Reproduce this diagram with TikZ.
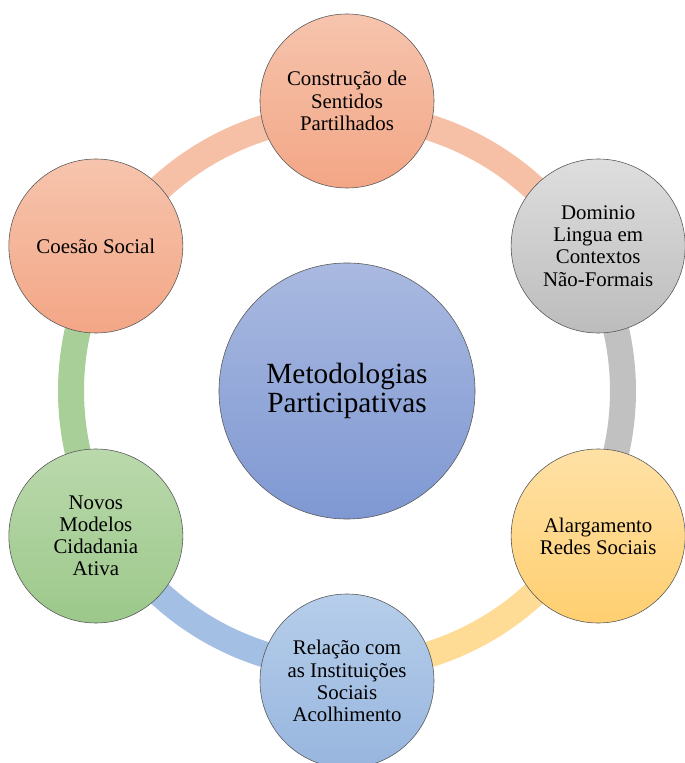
\documentclass[tikz,border=0pt]{standalone}
\usepackage{fontspec}
\setmainfont{Liberation Serif}
\usepackage{xcolor}
\usetikzlibrary{positioning}

\definecolor{salmonT}{HTML}{F6C4AD}
\definecolor{salmonB}{HTML}{F3A686}
\definecolor{greyT}{HTML}{DEDEDE}
\definecolor{greyB}{HTML}{BCBCBC}
\definecolor{goldT}{HTML}{FFE1A6}
\definecolor{goldB}{HTML}{FFCF70}
\definecolor{skyT}{HTML}{B6CEEA}
\definecolor{skyB}{HTML}{97B5DE}
\definecolor{leafT}{HTML}{BAD9AC}
\definecolor{leafB}{HTML}{9CC88A}
\definecolor{hubT}{HTML}{A9B9E0}
\definecolor{hubB}{HTML}{7F98D3}

\begin{document}
\begin{tikzpicture}[x=0.03cm,y=0.03cm,
   band/.style={line width=0.78cm},
   petal/.style={circle,draw=black!65,line width=0.5pt,minimum size=5.22cm,
      inner sep=0pt,align=center,font=\fontsize{17.8}{18.9}\selectfont},
   hub/.style={circle,draw=black!65,line width=0.5pt,minimum size=7.68cm,
      inner sep=0pt,align=center,font=\fontsize{25}{25.5}\selectfont}]
   \useasboundingbox (-347,-372) rectangle (338,391);
   % ring
   \draw[band,salmonT!85!salmonB] (150:276) arc[start angle=150,end angle=30,radius=276];
   \draw[band,greyB!85!greyT] (30:276) arc[start angle=30,end angle=-30,radius=276];
   \draw[band,goldT!70!goldB] (-30:276) arc[start angle=-30,end angle=-90,radius=276];
   \draw[band,skyT!40!skyB] (-90:276) arc[start angle=-90,end angle=-150,radius=276];
   \draw[band,leafT!40!leafB] (210:276) arc[start angle=210,end angle=150,radius=276];
   % circles
   \node[hub,top color=hubT,bottom color=hubB] (M) at (0,0) {Metodologias\\Participativas};
   \node[petal,top color=salmonT,bottom color=salmonB] (C) at (90:290) {Construção de\\Sentidos\\Partilhados};
   \node[petal,top color=greyT,bottom color=greyB] (D) at (30:290) {Dominio\\Lingua em\\Contextos\\Não-Formais};
   \node[petal,top color=goldT,bottom color=goldB] (A) at (-30:290) {Alargamento\\Redes Sociais};
   \node[petal,top color=skyT,bottom color=skyB] (R) at (-90:290) {Relação com\\as Instituições\\Sociais\\Acolhimento};
   \node[petal,top color=leafT,bottom color=leafB] (N) at (210:290) {Novos\\Modelos\\Cidadania\\Ativa};
   \node[petal,top color=salmonT,bottom color=salmonB] (S) at (150:290) {Coesão Social};
\end{tikzpicture}
\end{document}
